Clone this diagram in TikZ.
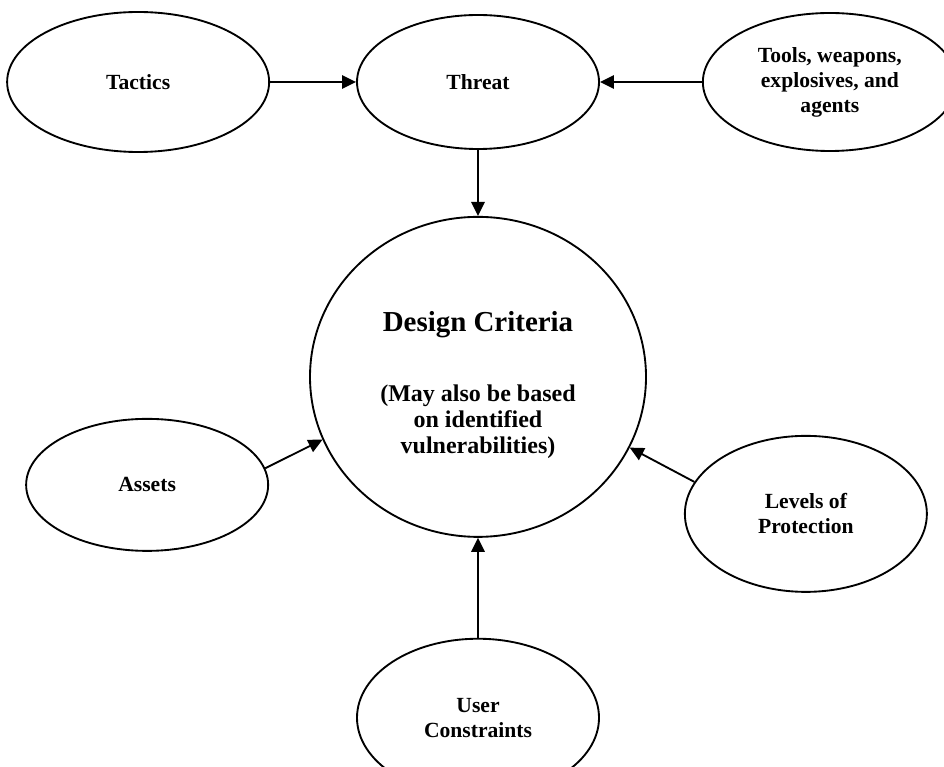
\documentclass[tikz,border=0pt]{standalone}
\usepackage{fontspec}
\setmainfont{Liberation Serif}
\usetikzlibrary{shapes.geometric, arrows.meta, positioning}
\tikzstyle{oval}  = [ellipse, draw, line width=1.4pt, minimum width=181.5pt,
                     minimum height=99pt, inner sep=0pt, align=center,
                     font=\fontsize{16.2}{18.75}\selectfont\bfseries]
\tikzstyle{arrow} = [-{Triangle[length=10.5pt, width=10pt]}, line width=1.4pt]

\begin{document}
\begin{tikzpicture}

  \useasboundingbox (0,0) rectangle (708pt,-574.5pt);

  %% ── Threat row ──
  \node[oval, minimum height=100.5pt] (threat) at (358.5pt,-61.5pt) {Threat};
  \node[oval, left=64.5pt of threat, minimum width=196.5pt,
        minimum height=105pt] (tactics) {Tactics};
  \node[oval, right=76.5pt of threat, minimum width=190.5pt,
        minimum height=103.5pt] (tools) {Tools, weapons,\\explosives, and\\agents};

  %% ── Design criteria ──
  \node[oval, below=49.5pt of threat, minimum width=252pt, minimum height=240pt,
        text height=118.5pt, font=\fontsize{18}{19.5}\selectfont\bfseries] (dc)
        {{\fontsize{21.7}{26}\selectfont Design Criteria}\\[33pt]
         (May also be based\\on identified\\vulnerabilities)};

  %% ── Inputs ──
  \node[oval, left=30pt of dc, yshift=-81pt] (assets) {Assets};
  \node[oval, right=27.75pt of dc, yshift=-102.75pt,
        minimum height=117pt] (levels) {Levels of\\Protection};
  \node[oval, below=75pt of dc, minimum height=118.5pt] (users) {User\\Constraints};

  %% ── Arrows ──
  \draw[arrow] (tactics) -- (threat);
  \draw[arrow] (tools) -- (threat);
  \draw[arrow] (threat) -- (dc);
  \draw[arrow] (assets.8) -- (dc.202);
  \draw[arrow] (levels.164) -- (dc.335);
  \draw[arrow] (users) -- (dc);

\end{tikzpicture}
\end{document}
